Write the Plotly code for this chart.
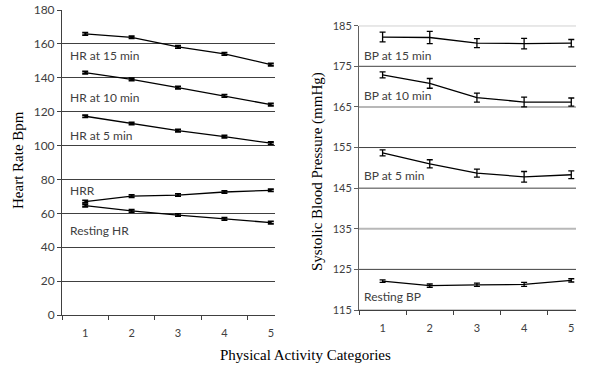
import plotly.graph_objects as go

categories = [1, 2, 3, 4, 5]

# Left panel: heart rate (bpm)
hr_15 = [165.9, 163.9, 158.2, 154.1, 147.8]
hr_10 = [143.0, 139.1, 134.2, 129.3, 124.2]
hr_5 = [117.3, 113.0, 108.8, 105.3, 101.4]
hrr = [66.9, 70.2, 70.8, 72.6, 73.6]
resting_hr = [64.5, 61.4, 59.0, 56.7, 54.5]
hr_err = [0.7, 0.7, 0.7, 0.7, 0.7]

# Right panel: systolic blood pressure (mmHg)
bp_15 = [182.2, 182.1, 180.7, 180.6, 180.7]
bp_15_err = [1.2, 1.5, 1.1, 1.3, 0.9]
bp_10 = [172.9, 170.8, 167.3, 166.2, 166.2]
bp_10_err = [0.75, 1.2, 1.1, 1.2, 1.0]
bp_5 = [153.7, 151.0, 148.7, 147.8, 148.3]
bp_5_err = [0.75, 1.0, 1.0, 1.3, 0.95]
resting_bp = [122.1, 121.0, 121.2, 121.3, 122.3]
resting_bp_err = [0.3, 0.4, 0.4, 0.5, 0.4]

left_ticks = [0, 20, 40, 60, 80, 100, 120, 140, 160, 180]
right_ticks = [115, 125, 135, 145, 155, 165, 175, 185]
right_grid_colors = ["#9a9a9a", "#404040", "#b8b8b8", "#404040", "#404040", "#b8b8b8", "#404040", "#8a8a8a"]
right_grid_widths = [1, 1, 2, 1, 1, 2, 1, 1]

left_labels = [("HR at 15 min", 152.9), ("HR at 10 min", 128.5), ("HR at 5 min", 105.7),
               ("HRR", 73.2), ("Resting HR", 49.6)]
right_labels = [("BP at 15 min", 177.6), ("BP at 10 min", 167.8), ("BP at 5 min", 148.2),
                ("Resting BP", 118.4)]

fig = go.Figure()

line_style = dict(color="black", width=1.3)

for ys in [hr_15, hr_10, hr_5, hrr, resting_hr]:
    fig.add_trace(go.Scatter(
        x=categories, y=ys, mode="lines", line=line_style,
        error_y=dict(type="data", array=hr_err, color="black", thickness=1.8, width=3),
        xaxis="x", yaxis="y", showlegend=False, hoverinfo="skip"))

for ys, es in [(bp_15, bp_15_err), (bp_10, bp_10_err), (bp_5, bp_5_err), (resting_bp, resting_bp_err)]:
    fig.add_trace(go.Scatter(
        x=categories, y=ys, mode="lines", line=line_style,
        error_y=dict(type="data", array=es, color="black", thickness=1.3, width=3),
        xaxis="x2", yaxis="y2", showlegend=False, hoverinfo="skip"))

tick_font = dict(family="Lato, 'Open Sans', sans-serif", size=11, color="#404040")
tick_font_left = dict(family="Lato, 'Open Sans', sans-serif", size=12, color="#404040")

xcommon = dict(
    tickmode="array", tickvals=categories, ticktext=[str(c) for c in categories],
    ticks="", showgrid=False, zeroline=False, showline=True, linecolor="#404040",
    linewidth=1, tickfont=tick_font, ticklabelstandoff=8, automargin=False,
    minor=dict(ticks="outside", tick0=0.5, dtick=1, ticklen=4, tickcolor="#404040",
               showgrid=False),
)

shapes = []
for v, c, w in zip(right_ticks, right_grid_colors, right_grid_widths):
    shapes.append(dict(type="line", xref="x2 domain", yref="y2", x0=0, x1=1, y0=v, y1=v,
                       line=dict(color=c, width=w), layer="below"))

annotations = []
for text, y in left_labels:
    annotations.append(dict(text=text, x=0.62, y=y, xref="x", yref="y", xanchor="left",
                            yanchor="middle", showarrow=False,
                            font=dict(family="Lato, 'Open Sans', sans-serif", size=12, color="#404040")))
for text, y in right_labels:
    annotations.append(dict(text=text, x=0.57, y=y, xref="x2", yref="y2", xanchor="left",
                            yanchor="middle", showarrow=False,
                            font=dict(family="Lato, 'Open Sans', sans-serif", size=12, color="#404040")))

serif = dict(family="'Liberation Serif', 'Times New Roman', serif", size=15, color="black")
annotations.append(dict(text="Heart Rate Bpm", x=18 / 600, y=1 - 160 / 379, xref="paper", yref="paper",
                        textangle=-90, showarrow=False, font=serif, xanchor="center", yanchor="middle"))
annotations.append(dict(text="Systolic Blood Pressure (mmHg)", x=318 / 600, y=1 - 172 / 379,
                        xref="paper", yref="paper", textangle=-90, showarrow=False, font=serif,
                        xanchor="center", yanchor="middle"))
annotations.append(dict(text="Physical Activity Categories", x=305 / 600, y=1 - 355 / 379,
                        xref="paper", yref="paper", showarrow=False, font=serif,
                        xanchor="center", yanchor="middle"))

fig.update_layout(
    width=600, height=379, margin=dict(l=0, r=0, t=0, b=0),
    paper_bgcolor="white", plot_bgcolor="white",
    xaxis=dict(domain=[62 / 600, 275 / 600], range=[0.5, 5.09], anchor="y", **xcommon),
    yaxis=dict(domain=[1 - 315 / 379, 1 - 10 / 379], range=[0, 180], anchor="x",
               tickmode="array", tickvals=left_ticks, showgrid=True, gridcolor="#404040",
               gridwidth=1, zeroline=False, showline=True, linecolor="#404040",
               ticks="outside", ticklen=4, tickcolor="#404040", tickfont=tick_font_left,
               automargin=False),
    xaxis2=dict(domain=[359 / 600, 576 / 600], range=[0.5, 5.1], anchor="y2", **xcommon),
    yaxis2=dict(domain=[1 - 310 / 379, 1 - 25.7 / 379], range=[115, 185], anchor="x2",
                tickmode="array", tickvals=right_ticks, showgrid=False, zeroline=False,
                showline=True, linecolor="#606060", ticks="outside", ticklen=4,
                tickcolor="#606060", tickfont=tick_font, automargin=False),
    shapes=shapes, annotations=annotations,
)

fig.write_html("out.html", config={"displayModeBar": False},
               post_script="document.body.style.margin='0';document.body.style.overflow='hidden';")
